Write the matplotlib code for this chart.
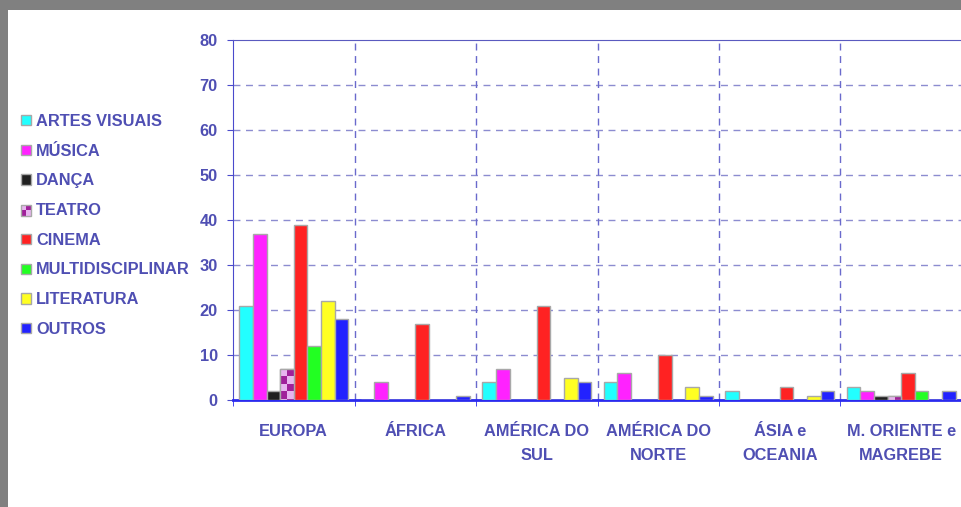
import matplotlib
matplotlib.use("Agg")
import matplotlib.pyplot as plt
import numpy as np
from matplotlib.patches import Rectangle

regioes = ["EUROPA", "ÁFRICA", "AMÉRICA DO\nSUL", "AMÉRICA DO\nNORTE",
           "ÁSIA e\nOCEANIA", "M. ORIENTE e\nMAGREBE"]
areas = ["ARTES VISUAIS", "MÚSICA", "DANÇA", "TEATRO", "CINEMA",
         "MULTIDISCIPLINAR", "LITERATURA", "OUTROS"]

artes_visuais = [21, 0, 4, 4, 2, 3]
musica = [37, 4, 7, 6, 0, 2]
danca = [2, 0, 0, 0, 0, 1]
teatro = [7, 0, 0, 0, 0, 1]
cinema = [39, 17, 21, 10, 3, 6]
multidisciplinar = [12, 0, 0, 0, 0, 2]
literatura = [22, 0, 5, 3, 1, 0]
outros = [18, 1, 4, 1, 2, 2]

series = [artes_visuais, musica, danca, teatro, cinema, multidisciplinar, literatura, outros]
cores = ["#22ffff", "#ff22ff", "#202020", "#e8b4f0", "#ff2222", "#22ff22", "#ffff22", "#2222ff"]
roxo = "#a0209a"
rosa = "#e8b4f0"
txt_cor = "#4f4fb3"
grid_cor = "#8c8cd0"
fs = 11.8

plt.rcParams['font.family'] = ['Liberation Sans', 'DejaVu Sans']
plt.rcParams['font.weight'] = 'bold'

fig = plt.figure(figsize=(9.61, 5.07), dpi=100)
# moldura cinzenta (topo e esquerda)
fig.patches.append(Rectangle((0, 497 / 507), 1, 10 / 507, transform=fig.transFigure,
                             facecolor="#808080", edgecolor="none", zorder=-1))
fig.patches.append(Rectangle((0, 0), 8 / 961, 1, transform=fig.transFigure,
                             facecolor="#808080", edgecolor="none", zorder=-1))

ax = fig.add_axes([233 / 961, 107 / 507, 729 / 961, 360 / 507])

x = np.arange(len(regioes))
w = 0.112
barras = []
for k, (vals, cor) in enumerate(zip(series, cores)):
    b = ax.bar(x + (k - 3.5) * w, vals, w, color=cor, edgecolor="#a8a8a8",
               linewidth=1, zorder=3, label=areas[k])
    barras.append(b)

# padrão xadrez no teatro
cel_h = 1.7
for r in barras[3]:
    h = r.get_height()
    if h <= 0:
        continue
    n = int(np.ceil(h / cel_h))
    img = np.zeros((n, 2, 3))
    for i in range(n):
        for j in range(2):
            c = roxo if (i + j) % 2 else rosa
            img[i, j] = matplotlib.colors.to_rgb(c)
    x0 = r.get_x()
    im = ax.imshow(img, extent=[x0, x0 + r.get_width(), h - n * cel_h, h],
                   origin="upper", aspect="auto", interpolation="nearest", zorder=3.5)
    im.set_clip_path(r)
    ax.add_patch(Rectangle((x0, 0), r.get_width(), h, facecolor="none",
                           edgecolor="#a8a8a8", linewidth=1, zorder=4))

ax.set_xlim(-0.5, 5.5)
ax.set_ylim(0, 80)
ax.set_yticks(range(0, 81, 10))
for yv in range(10, 80, 10):
    ax.axhline(yv, color=grid_cor, linestyle=(0, (5, 4)), linewidth=1, zorder=1)
for xv in np.arange(0.5, 5.5, 1):
    ax.axvline(xv, color="#6a6acc", linestyle=(0, (5, 4)), linewidth=1, zorder=1)

ax.set_xticks(x)
ax.set_xticklabels(regioes, linespacing=1.75, fontweight="bold")
ax.set_yticklabels([str(v) for v in range(0, 81, 10)], fontweight="bold")
ax.set_xticks(np.arange(-0.5, 6, 1), minor=True)
ax.tick_params(axis="x", which="major", length=0, pad=17, labelsize=fs, labelcolor=txt_cor)
ax.tick_params(axis="x", which="minor", length=4, color="#2a2aee", direction="out")
ax.tick_params(axis="y", length=4, color="#4a4acc", labelsize=fs, labelcolor=txt_cor, pad=7)

ax.spines["left"].set_color("#4a4acc")
ax.spines["top"].set_color("#5a5abf")
ax.spines["bottom"].set_color("#2a2aee")
ax.spines["bottom"].set_linewidth(2)
ax.spines["right"].set_visible(False)


class Xadrez:
    def legend_artist(self, legend, orig_handle, fontsize, handlebox):
        x0, y0 = handlebox.xdescent, handlebox.ydescent
        w2, h2 = handlebox.width / 2, handlebox.height / 2
        for i in range(2):
            for j in range(2):
                c = roxo if (i + j) % 2 == 0 else rosa
                handlebox.add_artist(Rectangle((x0 + i * w2, y0 + j * h2), w2, h2,
                                               facecolor=c, edgecolor="none",
                                               transform=handlebox.get_transform()))
        borda = Rectangle((x0, y0), 2 * w2, 2 * h2, facecolor="none", edgecolor="#a8a8a8",
                          linewidth=1, transform=handlebox.get_transform())
        handlebox.add_artist(borda)
        return borda


leg = fig.legend(handles=barras, labels=areas, loc="upper left",
                 bbox_to_anchor=(6 / 961, 1 - 99 / 507), frameon=False,
                 handlelength=0.6, handleheight=0.6, handletextpad=0.35,
                 labelspacing=0.9, prop={"size": fs, "weight": "bold"},
                 handler_map={barras[3]: Xadrez()})
for t in leg.get_texts():
    t.set_color(txt_cor)

fig.savefig("out.png", dpi=100)
